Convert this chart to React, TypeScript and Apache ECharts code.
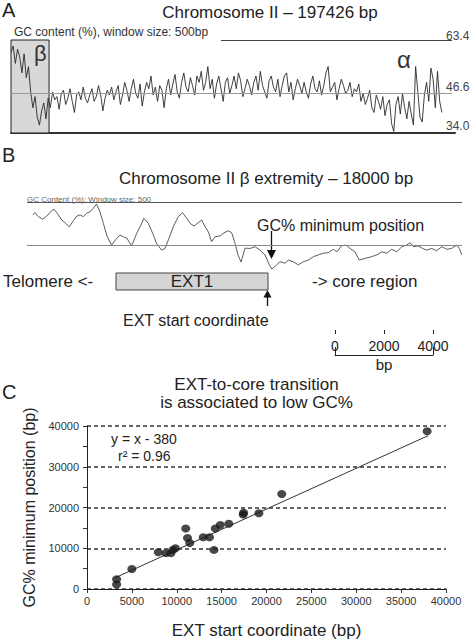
import React, { useEffect, useRef } from 'react';
import * as echarts from 'echarts';

const FONT = '"Liberation Sans", Arial, Helvetica, sans-serif';

// ---------- Panel A : GC content along chromosome II (one value per 1 kb step) ----------
const gcA: number[] = [
  59.5, 61.5, 56, 60.5, 58, 53, 59, 51.5, 55,
  47, 42, 45.5, 39, 36.5, 41, 43.5, 38.5, 45,
  42, 47, 44.5, 45.5, 41.5, 46.5, 47.5, 43, 45, 48, 44, 40.5, 46, 47, 44.5, 48.5, 45, 43.5, 46, 48, 44, 45.5, 49, 46, 41, 45, 47.5, 46,
  48.5, 44.5, 47, 49, 43, 46, 50, 47.5, 44, 48, 51, 46.5, 45, 49.5, 42.5, 47, 50, 48, 52, 46, 48.5, 44, 49, 47.5, 42,
  48, 51, 46, 49.5, 52.5, 47, 45, 50, 53, 48.5, 47, 51.5, 49, 46, 52, 50, 53.5, 47.5, 50, 55, 48, 51, 45, 49.5, 52, 48, 44, 50, 51.5, 46.5,
  49, 52, 48, 53, 50.5, 45.5, 48, 51, 49, 46, 50, 52, 47.5, 53.5, 49, 47, 45, 50.5, 52, 48.5, 47, 51, 45.5, 49, 52, 53, 47, 50, 44.5, 48,
  51, 49, 46.5, 50, 47, 45, 49.5, 52, 48, 47, 50.5, 46, 49, 53, 55, 47, 48.5, 50, 44.5, 48, 51, 49, 46.5, 47.5, 50, 45.5, 48, 47, 49.5, 44,
  46.5, 43, 45, 47.5, 42, 40.5, 46, 44, 41.5, 45.5, 39.5, 43, 44.5, 37, 34.5,
  43, 45.5, 40, 46.5, 42, 38.5, 44, 40, 36.5, 55, 47, 39, 37.5, 46, 50, 44, 54.5, 51, 42, 53.5, 44, 40.5,
];
const aStepBp = 1000;
const aAxisMaxBp = 203000;
const aScale = { min: 34.0, mid: 46.6, max: 63.4 };
const aTickLabels = ['63.4', '46.6', '34.0'];
const betaRegionBp = [0, 17400];
const aTopLineStartBp = 96000;
const aLineEndBp = 201600;

// ---------- Panel B : beta extremity, 18000 bp ----------
const bPos: number[] = [
  240, 330, 470, 650, 820, 1020, 1120, 1250, 1440, 1570,
  1750, 1920, 2060, 2190, 2330, 2470, 2610, 2740, 2880, 3020,
  3160, 3320, 3500, 3680, 3850, 3990, 4130, 4330, 4540, 4710,
  4840, 5020, 5200, 5370, 5570, 5710, 5850, 6050, 6260, 6440,
  6610, 6750, 6910, 7090, 7230, 7370, 7500, 7640, 7780, 7990,
  8150, 8330, 8470, 8610, 8730, 8860, 9020, 9230, 9440, 9640,
  9850, 10030, 10130, 10330, 10470, 10680, 10810, 11020, 11230, 11430,
  11640, 11850, 12050, 12260, 12470, 12680, 12820, 13020, 13200, 13370,
  13570, 13750, 13990, 14260, 14470, 14680, 14890, 15090, 15300, 15510,
  15710, 15850, 15990, 16190, 16370, 16540, 16750, 16950, 17160, 17370,
  17570, 17780, 17890, 17990,
];
const bGC: number[] = [
  55.7, 56.5, 55.1, 54.2, 55.3, 57.2, 57.7, 56.3, 53.9, 53.0,
  51.5, 53.7, 55.3, 55.7, 55.1, 56.3, 56.8, 58.0, 59.5, 56.8,
  52.7, 48.0, 45.1, 47.1, 48.6, 48.0, 47.5, 44.8, 49.2, 52.1,
  54.5, 52.7, 49.2, 45.5, 43.3, 43.9, 46.9, 51.5, 55.1, 56.5,
  54.5, 52.7, 51.8, 53.0, 53.9, 51.5, 49.8, 46.3, 48.0, 48.3,
  49.4, 50.1, 49.4, 45.7, 41.6, 39.1, 44.0, 43.9, 44.5, 43.3,
  41.6, 38.1, 36.6, 38.1, 39.2, 38.7, 39.8, 39.2, 38.1, 39.2,
  39.8, 41.0, 41.6, 42.2, 42.4, 43.6, 42.7, 44.8, 45.1, 43.9,
  42.7, 39.8, 40.4, 41.0, 41.6, 42.7, 42.2, 43.6, 42.7, 44.5,
  45.1, 45.9, 44.5, 44.8, 43.9, 43.3, 43.9, 43.1, 44.5, 43.6,
  43.9, 45.1, 43.9, 41.6,
];
const bAxisMaxBp = 18000;
const bScale = { min: 35, mid: 45, max: 60 };

// ---------- Scale bar ----------
const scaleBarMax = 4000;
const scaleBarStep = 2000;

// ---------- Panel C : scatter ----------
const extStart: number[] = [3300, 3300, 5000, 7950, 8800, 9350, 9550, 9850, 11000, 11200, 11450, 12950, 13650, 14150, 14300, 14850, 15800, 17400, 17450, 19150, 21700, 37900];
const gcMinPos: number[] = [2400, 1100, 4900, 9000, 8800, 8800, 9600, 10000, 14850, 12500, 11300, 12700, 12700, 9600, 14850, 15700, 16000, 18300, 18700, 18600, 23300, 38700];
const fitSlope = 1;
const fitIntercept = -380;
const fitRange = [3100, 38000];
const rSquared = 0.96;
const cAxisMax = 40000;
const cXInterval = 5000;
const cYInterval = 10000;

// ---------- layout ----------
const gridA = { left: 11, top: 40, width: 444, height: 93 };
const gridB = { left: 27, top: 202.7, width: 435, height: 71 };
const gridS = { left: 335, top: 330, width: 98, height: 25 };
const gridC = { left: 87, top: 426, width: 359, height: 163 };

const yPixA = (v: number) => gridA.top + ((aScale.max - v) / (aScale.max - aScale.min)) * gridA.height;
const plain = (v: number) => String(v);

function txt(text: string, x: number, y: number, size: number, o: any = {}) {
  const align = o.align || 'left';
  const va = o.va || 'middle';
  return {
    type: 'text',
    x,
    y,
    z: 10,
    silent: true,
    style: {
      text,
      fontSize: size,
      fontFamily: o.family || FONT,
      fill: o.fill || '#222',
      align,
      verticalAlign: va,
      textAlign: align,
      textVerticalAlign: va,
    },
  };
}

function buildOption() {
  const aLabelValues = [aScale.max, aScale.mid, aScale.min];
  const aLabelOffsets = [2, 0, -1];
  const graphic: any[] = [
    txt('A', 2, 10, 20),
    txt('Chromosome II \u2013 197426 bp', 270, 12, 17, { align: 'center' }),
    txt('GC content (%), window size: 500bp', 14, 31.5, 12, { fill: '#333' }),
    ...aLabelValues.map((v, i) =>
      txt(aTickLabels[i], 446, yPixA(v) + aLabelOffsets[i], 12, { va: 'bottom', fill: '#444' })
    ),
    txt('\u03b1', 397, 59, 24, { fill: '#333' }),

    txt('B', 2, 155, 20),
    txt('Chromosome II \u03b2 extremity \u2013 18000 bp', 266, 178, 17, { align: 'center' }),
    txt('GC Content (%): Window size: 500', 27, 199, 8, { fill: '#666' }),
    txt('GC% minimum position', 257, 225, 16),
    { type: 'line', silent: true, shape: { x1: 271.5, y1: 231, x2: 271.5, y2: 251 }, style: { stroke: '#111', lineWidth: 1.3 } },
    { type: 'polygon', silent: true, shape: { points: [[267, 250], [276, 250], [271.5, 259]] }, style: { fill: '#111' } },
    txt('Telomere <-', 3, 281.5, 17),
    { type: 'rect', silent: true, shape: { x: 116, y: 273, width: 152, height: 17 }, style: { fill: '#d4d4d4', stroke: '#444', lineWidth: 1 } },
    txt('EXT1', 192, 281.5, 17, { align: 'center' }),
    txt('-> core region', 312, 281.5, 17),
    { type: 'line', silent: true, shape: { x1: 267.5, y1: 306, x2: 267.5, y2: 296 }, style: { stroke: '#111', lineWidth: 1.3 } },
    { type: 'polygon', silent: true, shape: { points: [[263.5, 297.5], [271.5, 297.5], [267.5, 290]] }, style: { fill: '#111' } },
    txt('EXT start coordinate', 123, 320, 16),

    txt('C', 2, 392, 20),
    txt('EXT-to-core transition', 256.5, 384, 17, { align: 'center' }),
    txt('is associated to low GC%', 256.5, 402, 17, { align: 'center' }),
    txt(`y = x - ${-fitIntercept}`, 111, 439, 14),
    txt(`r\u00b2 = ${rSquared.toFixed(2)}`, 118, 456, 14),
  ];

  const fitLine = fitRange.map((x) => [x, fitSlope * x + fitIntercept]);

  return {
    animation: false,
    backgroundColor: '#ffffff',
    textStyle: { fontFamily: FONT },
    grid: [
      { ...gridA, containLabel: false, outerBoundsMode: 'none' },
      { ...gridB, containLabel: false, outerBoundsMode: 'none' },
      { ...gridC, containLabel: false, outerBoundsMode: 'none' },
      { ...gridS, containLabel: false, outerBoundsMode: 'none' },
    ],
    xAxis: [
      {
        gridIndex: 0, type: 'value', min: 0, max: aAxisMaxBp,
        axisLine: { show: true, lineStyle: { color: '#333', width: 2 } },
        axisTick: { show: false }, axisLabel: { show: false }, splitLine: { show: false },
      },
      {
        gridIndex: 1, type: 'value', min: 0, max: bAxisMaxBp, show: false,
      },
      {
        gridIndex: 2, type: 'value', min: 0, max: cAxisMax, interval: cXInterval,
        axisLine: { show: true, onZero: false, lineStyle: { color: '#222', width: 1 } },
        axisTick: { show: true, length: 4, lineStyle: { color: '#333' } },
        axisLabel: { fontSize: 11, color: '#333', margin: 6, fontFamily: FONT, formatter: plain },
        splitLine: { show: false },
        name: 'EXT start coordinate (bp)', nameLocation: 'middle', nameGap: 33,
        nameTextStyle: { fontSize: 17, color: '#222', fontFamily: FONT },
      },
      {
        gridIndex: 3, type: 'value', min: 0, max: scaleBarMax, interval: scaleBarMax,
        axisLine: { show: true, onZero: false, lineStyle: { color: '#222', width: 1 } },
        axisTick: { show: true, inside: true, length: 8, lineStyle: { color: '#222', width: 1 } },
        axisLabel: { show: false }, splitLine: { show: false },
        name: 'bp', nameLocation: 'middle', nameGap: 2,
        nameTextStyle: { fontSize: 15, color: '#222', fontFamily: FONT, verticalAlign: 'top' },
      },
      {
        gridIndex: 3, type: 'value', min: 0, max: scaleBarMax, interval: scaleBarStep,
        axisLine: { show: false, onZero: false },
        axisTick: { show: true, inside: true, length: 4, lineStyle: { color: '#222', width: 1 } },
        axisLabel: { show: true, inside: true, margin: 9, fontSize: 14, color: '#222', fontFamily: FONT, formatter: plain },
        splitLine: { show: false },
      },
    ],
    yAxis: [
      { gridIndex: 0, type: 'value', min: aScale.min, max: aScale.max, show: false },
      { gridIndex: 1, type: 'value', min: bScale.min, max: bScale.max, show: false },
      {
        gridIndex: 2, type: 'value', min: 0, max: cAxisMax, interval: cYInterval,
        axisLine: { show: true, onZero: false, lineStyle: { color: '#222', width: 1 } },
        axisTick: { show: true, length: 4, lineStyle: { color: '#333' } },
        minorTick: { show: true, splitNumber: 2, length: 4, lineStyle: { color: '#333' } },
        axisLabel: { fontSize: 11, color: '#333', margin: 8, fontFamily: FONT, formatter: plain },
        splitLine: { show: true, lineStyle: { color: '#666', width: 1.8, type: [4, 3] } },
        name: 'GC% minimum position (bp)', nameLocation: 'middle', nameGap: 50, nameRotate: 90,
        nameTextStyle: { fontSize: 16, color: '#222', fontFamily: FONT },
      },
      { gridIndex: 3, type: 'value', min: 0, max: 1, show: false },
    ],
    series: [
      {
        type: 'line', xAxisIndex: 0, yAxisIndex: 0, silent: true,
        showSymbol: false, symbol: 'none',
        data: gcA.map((v, i) => [i * aStepBp, v]),
        lineStyle: { color: '#2a2a2a', width: 0.9 },
        z: 3,
        markArea: {
          silent: true,
          itemStyle: { color: '#d8d8d8', borderColor: '#222', borderWidth: 1 },
          label: { show: true, position: 'insideTopRight', distance: 3, fontSize: 22, color: '#333', fontFamily: FONT, formatter: '\u03b2' },
          data: [[{ xAxis: betaRegionBp[0] }, { xAxis: betaRegionBp[1] }]],
        },
        markLine: {
          silent: true, symbol: 'none', label: { show: false },
          data: [
            [{ coord: [aTopLineStartBp, aScale.max], lineStyle: { color: '#444', width: 1.2, type: 'solid' } }, { coord: [aLineEndBp, aScale.max] }],
            [{ coord: [0, aScale.mid], lineStyle: { color: '#999', width: 1, type: 'solid' } }, { coord: [aLineEndBp, aScale.mid] }],
          ],
        },
      },
      {
        type: 'line', xAxisIndex: 1, yAxisIndex: 1, silent: true,
        showSymbol: false, symbol: 'none',
        data: bPos.map((x, i) => [x, bGC[i]]),
        lineStyle: { color: '#333', width: 0.8 },
        markLine: {
          silent: true, symbol: 'none', label: { show: false },
          data: [
            [{ coord: [0, bScale.max], lineStyle: { color: '#555', width: 1.2, type: 'solid' } }, { coord: [bAxisMaxBp, bScale.max] }],
            [{ coord: [0, bScale.mid], lineStyle: { color: '#888', width: 1, type: 'solid' } }, { coord: [bAxisMaxBp, bScale.mid] }],
          ],
        },
      },
      {
        type: 'line', xAxisIndex: 2, yAxisIndex: 2, silent: true,
        showSymbol: false, symbol: 'none',
        data: fitLine,
        lineStyle: { color: '#333', width: 1 },
        z: 2,
      },
      {
        type: 'scatter', xAxisIndex: 2, yAxisIndex: 2, silent: true,
        symbol: 'circle', symbolSize: [9, 8],
        data: extStart.map((x, i) => [x, gcMinPos[i]]),
        itemStyle: { color: '#1a1a1a' },
        z: 3,
      },
    ],
    graphic,
  };
}

export default function App() {
  const ref = useRef<HTMLDivElement>(null);
  useEffect(() => {
    if (!ref.current) return;
    const chart = echarts.init(ref.current, null, { renderer: 'svg' });
    chart.setOption(buildOption() as any);
    return () => chart.dispose();
  }, []);
  return (
    <div
      ref={ref}
      style={{ position: 'absolute', left: 0, top: 0, width: 472, height: 641, background: '#fff' }}
    />
  );
}
